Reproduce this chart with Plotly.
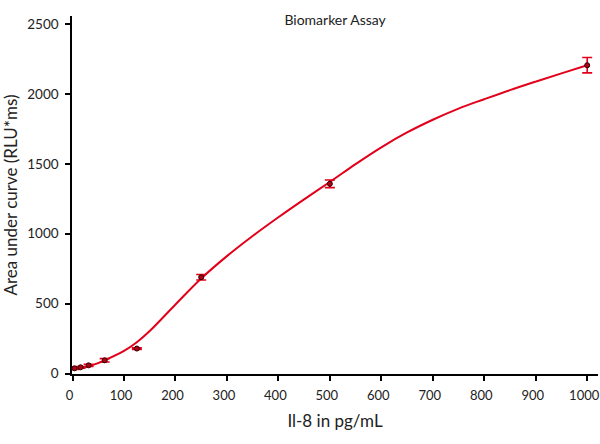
import plotly.graph_objects as go

# measured standards (IL-8 concentration, mean signal, error)
conc = [3.9, 15.6, 31.25, 62.5, 125, 250, 500, 1000]
signal = [38, 45, 59, 95, 179, 689, 1357, 2205]
signal_err = [8, 6, 8, 12, 6, 20, 27, 55]

# fitted curve
fit_x = [0, 20, 40, 62.5, 100, 125, 150, 200, 250, 300, 350, 400, 450, 500,
         550, 600, 650, 700, 750, 800, 850, 900, 950, 1000]
fit_y = [28, 42, 62, 95, 162, 224, 304, 494, 680, 840, 984, 1118, 1246, 1370,
         1498, 1618, 1724, 1815, 1895, 1962, 2027, 2088, 2147, 2205]

red = "#e2001a"

fig = go.Figure()

fig.add_trace(go.Scatter(
    x=fit_x, y=fit_y, mode="lines",
    line=dict(color=red, width=2, shape="spline", smoothing=1.0),
    hoverinfo="skip"))

fig.add_trace(go.Scatter(
    x=conc, y=signal, mode="markers",
    marker=dict(size=5, color="#b0001a", line=dict(color="#300000", width=1)),
    error_y=dict(type="data", array=signal_err, color=red, thickness=1.6, width=5)))

fig.update_layout(
    template="none",
    width=600, height=444,
    margin=dict(l=72, r=2, t=16, b=70),
    paper_bgcolor="white", plot_bgcolor="white",
    showlegend=False,
    font=dict(family="Lato", size=14, color="#222"),
    title=dict(text="Biomarker Assay", x=0.5585, xanchor="center",
               y=0.955, yanchor="middle", font=dict(size=14, color="#222")))

fig.update_xaxes(
    automargin=False, ticklabeloverflow="allow", ticklabelstandoff=4,
    ticklabelshift=-3, tickfont=dict(size=13),
    range=[-1, 1021], tickvals=[0, 100, 200, 300, 400, 500, 600, 700, 800, 900, 1000],
    showgrid=False, zeroline=False, showline=True, linecolor="black", linewidth=1.5,
    ticks="outside", ticklen=5, tickcolor="black", tickwidth=1.5,
    title=dict(text="Il-8 in pg/mL", standoff=13))

fig.update_yaxes(
    automargin=False, ticklabeloverflow="allow", ticklabelstandoff=4,
    tickfont=dict(size=13.5),
    range=[-3, 2557], tickvals=[0, 500, 1000, 1500, 2000, 2500],
    showgrid=False, zeroline=False, showline=True, linecolor="black", linewidth=1.5,
    ticks="outside", ticklen=5, tickcolor="black", tickwidth=1.5,
    title=dict(text="Area under curve (RLU*ms)", standoff=8))

# drop the default page margin so the figure sits at the window's corner
fig.write_html("out.html", config={"displayModeBar": False},
               post_script="document.body.style.margin='0';")
